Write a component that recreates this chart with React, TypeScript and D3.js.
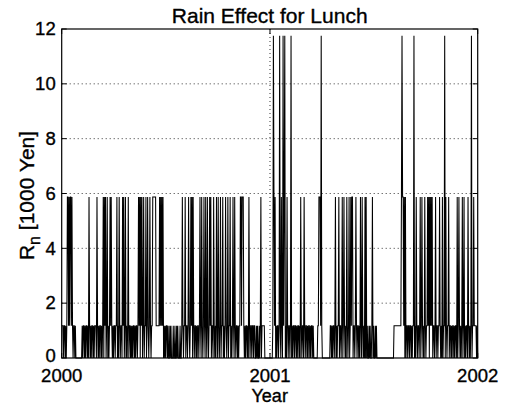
import React from 'react';
import * as d3 from 'd3';

// daily codes, one string per month: 0 = none, 1 = light, 5 = medium, X = heavy
const rain2000 = [
  '1110110101551515515101101000000',
  '00000101101011010510101101011',
  '1051010110101505150150101515101011',
  '011501051011051501501015011010',
  '1011010110151505150150115015101',
  '510115555551111115151515010101',
  '1010010100010010010100010015101',
  '1501101510151505101101011015' + '1',
  '051015105105101515011051010510',
  '5101501150101510150115010151051',
  '011010115515551010110105101101',
  '1011001010010150111110000000000',
];
const rain2001 = [
  '00001X5150101101X10510X15X01051',
  '01101X01011011010110105101' + '10',
  '51011010110101101000000011555' + '1X',
  '100000000000000110101101501011',
  '5011015015101051015015155011015',
  '101101051051010505010010100150',
  '1001010000000000000000000000000',
  '0000011111111111115X55150501101',
  '101101011X01051011015015101051',
  '0115150515150110150110115101050',
  '11X051011501101011010110501510',
  '1015015010110510101X01151111010',
];
const levels: Record<string, number> = { '0': 0, '1': 1.175, '5': 5.875, X: 11.75 };

const yTicks = [0, 2, 4, 6, 8, 10, 12];
const xTickYears = [2000, 2001, 2002];

const W = 510, H = 406;
const left = 61.7, right = 477.7, top = 29, bottom = 358;

const App = () => {
  const codes = [...rain2000, ...rain2001].join('');
  const start = new Date(Date.UTC(2000, 0, 1));
  const data = codes.split('').map((c, i) => ({ date: d3.utcDay.offset(start, i), v: levels[c] }));

  const x = d3.scaleUtc().domain([start, new Date(Date.UTC(2002, 0, 1))]).range([left, right]);
  const y = d3.scaleLinear().domain([0, 12]).range([bottom, top]);
  const line = d3.line<{ date: Date; v: number }>().x(d => x(d.date)).y(d => y(d.v));
  const font = '"Liberation Sans", Arial, Helvetica, sans-serif';
  const heavy = { stroke: '#000', strokeWidth: 0.35 };

  return (
    <svg width={W} height={H} style={{ position: 'fixed', left: 0, top: 0, background: '#fff' }} fontFamily={font}>
      <rect x={0} y={0} width={W} height={H} fill="#fff" />
      {yTicks.filter(t => t > 0 && t < 12).map(t => (
        <line key={t} x1={left} x2={right} y1={y(t)} y2={y(t)} stroke="#000" strokeWidth={0.8} strokeDasharray="1,3" />
      ))}
      <line x1={x(new Date(Date.UTC(2001, 0, 1)))} x2={x(new Date(Date.UTC(2001, 0, 1)))} y1={top} y2={bottom}
        stroke="#000" strokeWidth={0.8} strokeDasharray="1,3" />
      <path d={line(data) || ''} fill="none" stroke="#000" strokeWidth={1.05} />
      <rect x={left} y={top} width={right - left} height={bottom - top} fill="none" stroke="#000" strokeWidth={1.2} />
      {yTicks.map(t => (
        <g key={t}>
          <line x1={left} x2={left + 5} y1={y(t)} y2={y(t)} stroke="#000" />
          <line x1={right - 5} x2={right} y1={y(t)} y2={y(t)} stroke="#000" />
          <text x={left - 6} y={y(t)} dy={t === 0 ? '0.2em' : '0.34em'} textAnchor="end" fontSize={18.5} {...heavy}>{t}</text>
        </g>
      ))}
      {xTickYears.map(yr => {
        const px = x(new Date(Date.UTC(yr, 0, 1)));
        return (
          <g key={yr}>
            <line x1={px} x2={px} y1={bottom} y2={bottom - 5} stroke="#000" />
            <line x1={px} x2={px} y1={top} y2={top + 5} stroke="#000" />
            <text x={px} y={382} textAnchor="middle" fontSize={18.5} {...heavy}>{yr}</text>
          </g>
        );
      })}
      <text x={(left + right) / 2} y={402} textAnchor="middle" fontSize={18} {...heavy}>Year</text>
      <text x={(left + right) / 2} y={23} textAnchor="middle" fontSize={21} {...heavy}>Rain Effect for Lunch</text>
      <text transform={`translate(34, ${(top + bottom) / 2 + 2}) rotate(-90)`} textAnchor="middle" fontSize={21} {...heavy}>
        R<tspan fontSize={16} dy={6}>n</tspan><tspan dy={-6}> [1000 Yen]</tspan>
      </text>
    </svg>
  );
};

export default App;
